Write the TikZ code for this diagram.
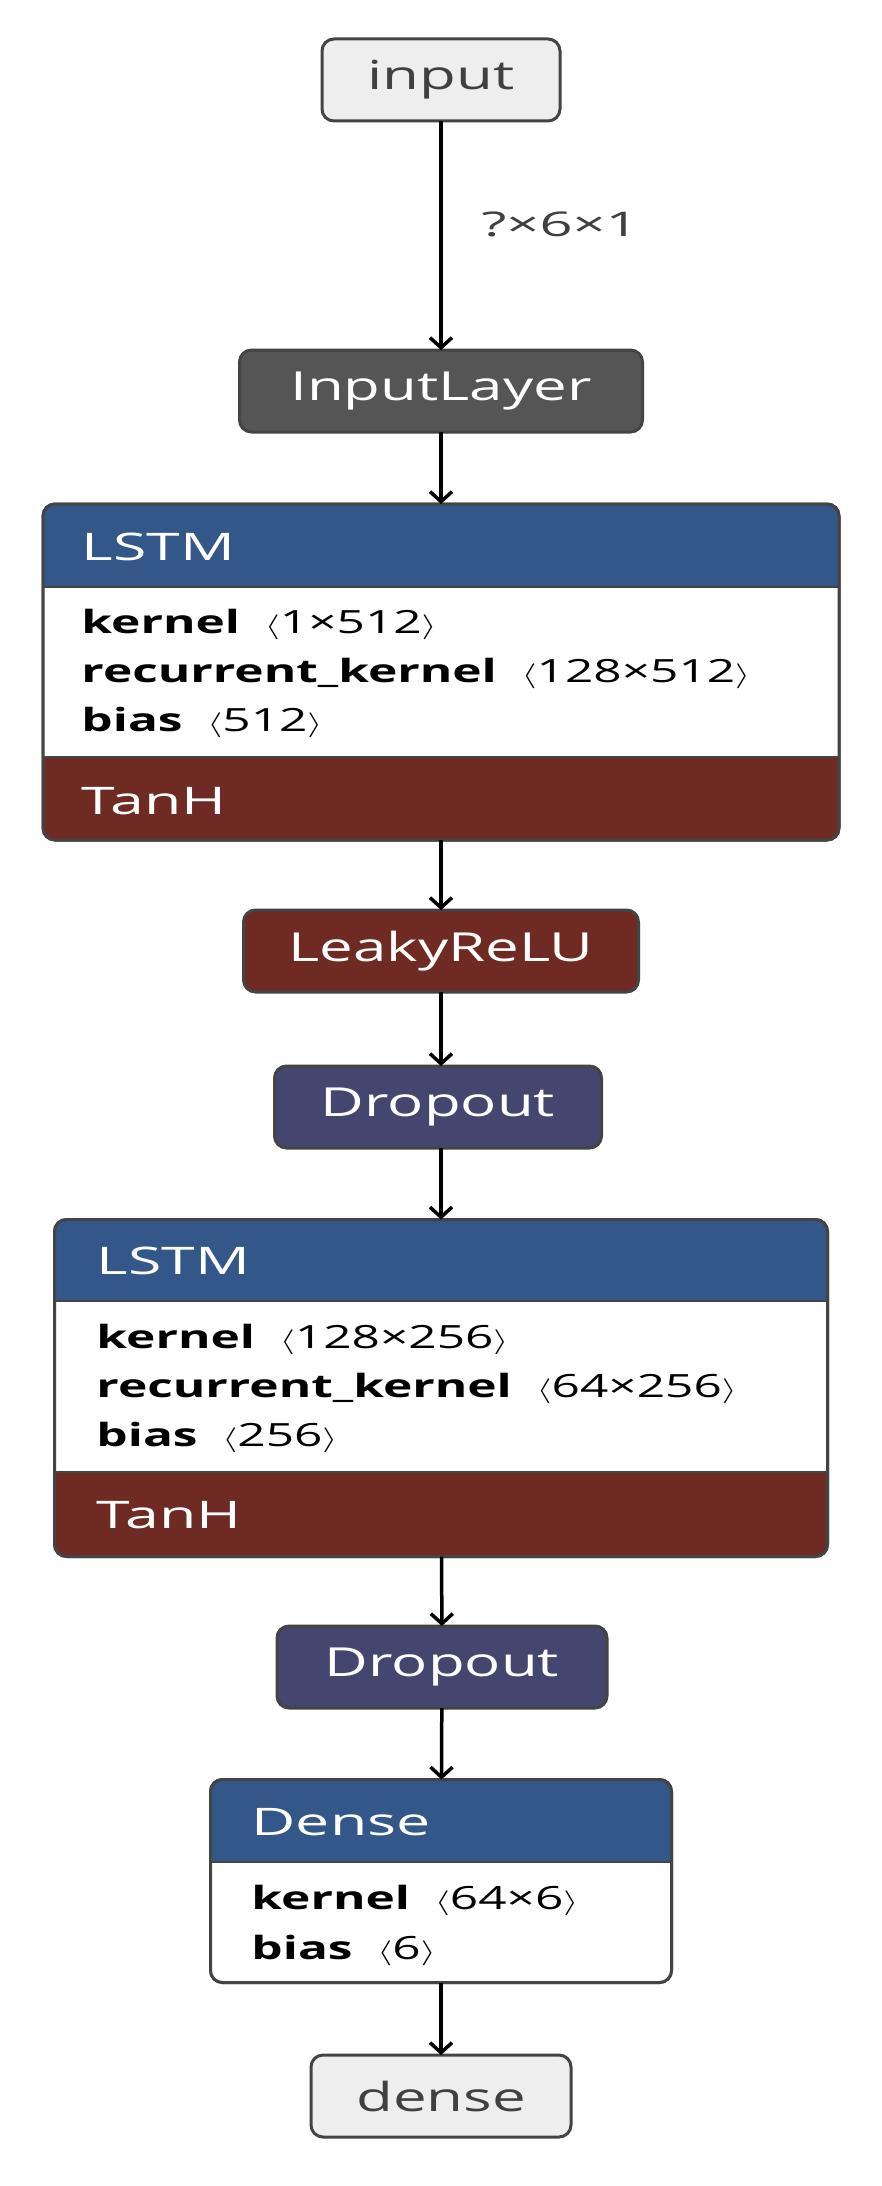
\documentclass[tikz,border=0pt]{standalone}
\usepackage{fontspec}
\setmainfont{Open Sans}
\usetikzlibrary{arrows.meta}
\definecolor{hblue}{HTML}{335788}
\definecolor{hred}{HTML}{6E2A23}
\definecolor{hgray}{HTML}{555555}
\definecolor{hdrop}{HTML}{45466F}
\definecolor{hlight}{HTML}{EEEEEE}
\definecolor{bord}{HTML}{444444}
\begin{document}
\begin{tikzpicture}[x=1pt,y=-1pt,
  box/.style={draw=bord,line width=3,rounded corners=12,inner sep=0,outer sep=0},
  lab/.style={font=\fontsize{40}{42}\selectfont,xscale=1.5,text=white},
  hd/.style={anchor=west,font=\fontsize{38}{40}\selectfont,xscale=1.6,text=white},
  bd/.style={anchor=west,font=\fontsize{32}{34}\selectfont,xscale=1.55,text=black},
  arr/.style={line width=3.5,-{Straight Barb[length=10,width=22,line width=3.5]}}]
\useasboundingbox (0,0) rectangle (881,2186);
\fill[white] (0,0) rectangle (881,2186);
% simple nodes
\node[box,fill=hlight,minimum width=238,minimum height=82] (in) at (441,80) {};
\node[lab,text=black!75] at (in) {input};
\node[box,fill=hgray,minimum width=403,minimum height=82] (il) at (441,391) {};
\node[lab] at (il) {InputLayer};
\node[box,fill=hred,minimum width=395,minimum height=82] (lr) at (441,951) {};
\node[lab] at (lr) {LeakyReLU};
\node[box,fill=hdrop,minimum width=327,minimum height=82] (d1) at (438,1107) {};
\node[lab] at (d1) {Dropout};
\node[box,fill=hdrop,minimum width=330,minimum height=82] (d2) at (442,1667) {};
\node[lab] at (d2) {Dropout};
\node[box,fill=hlight,minimum width=260,minimum height=82] (out) at (441,2096) {};
\node[lab,text=black!75] at (out) {dense};
% LSTM 1
\node[box,minimum width=796,minimum height=336] (l1) at (441,672) {};
\begin{scope}
\clip[rounded corners=12] (l1.north west) rectangle (l1.south east);
\fill[hblue] (43,504) rectangle (839,587);
\fill[white] (43,587) rectangle (839,757);
\fill[hred] (43,757) rectangle (839,840);
\draw[bord,line width=2] (43,587) -- (839,587) (43,757) -- (839,757);
\end{scope}
\draw[box] (l1.north west) rectangle (l1.south east);
\node[hd] at (76,547) {LSTM};
\node[hd] at (76,801) {TanH};
\node[bd] at (76,624) {\textbf{kernel}\enspace$\langle$1×512$\rangle$};
\node[bd] at (76,673) {\textbf{recurrent\_kernel}\enspace$\langle$128×512$\rangle$};
\node[bd] at (76,722) {\textbf{bias}\enspace$\langle$512$\rangle$};
% LSTM 2
\node[box,minimum width=773,minimum height=337] (l2) at (441,1388) {};
\begin{scope}
\clip[rounded corners=12] (l2.north west) rectangle (l2.south east);
\fill[hblue] (55,1219) rectangle (828,1301);
\fill[white] (55,1301) rectangle (828,1472);
\fill[hred] (55,1472) rectangle (828,1557);
\draw[bord,line width=2] (55,1301) -- (828,1301) (55,1472) -- (828,1472);
\end{scope}
\draw[box] (l2.north west) rectangle (l2.south east);
\node[hd] at (91,1261) {LSTM};
\node[hd] at (91,1515) {TanH};
\node[bd] at (91,1339) {\textbf{kernel}\enspace$\langle$128×256$\rangle$};
\node[bd] at (91,1388) {\textbf{recurrent\_kernel}\enspace$\langle$64×256$\rangle$};
\node[bd] at (91,1437) {\textbf{bias}\enspace$\langle$256$\rangle$};
% Dense
\node[box,minimum width=461,minimum height=203] (de) at (441,1881) {};
\begin{scope}
\clip[rounded corners=12] (de.north west) rectangle (de.south east);
\fill[hblue] (211,1780) rectangle (672,1862);
\fill[white] (211,1862) rectangle (672,1983);
\draw[bord,line width=2] (211,1862) -- (672,1862);
\end{scope}
\draw[box] (de.north west) rectangle (de.south east);
\node[hd] at (246,1822) {Dense};
\node[bd] at (246,1900) {\textbf{kernel}\enspace$\langle$64×6$\rangle$};
\node[bd] at (246,1950) {\textbf{bias}\enspace$\langle$6$\rangle$};
% connectors
\draw[arr] (in) -- node[right=32,pos=0.45,font=\fontsize{34}{36}\selectfont,xscale=1.7,text=black!75]{?×6×1} (il);
\draw[arr] (il) -- (l1);
\draw[arr] (l1) -- (lr);
\draw[arr] (lr) -- (d1.north -| lr);
\draw[arr] (d1.south -| l2) -- (l2);
\draw[arr] (l2) -- (d2);
\draw[arr] (d2) -- (de);
\draw[arr] (de) -- (out);
\end{tikzpicture}
\end{document}
